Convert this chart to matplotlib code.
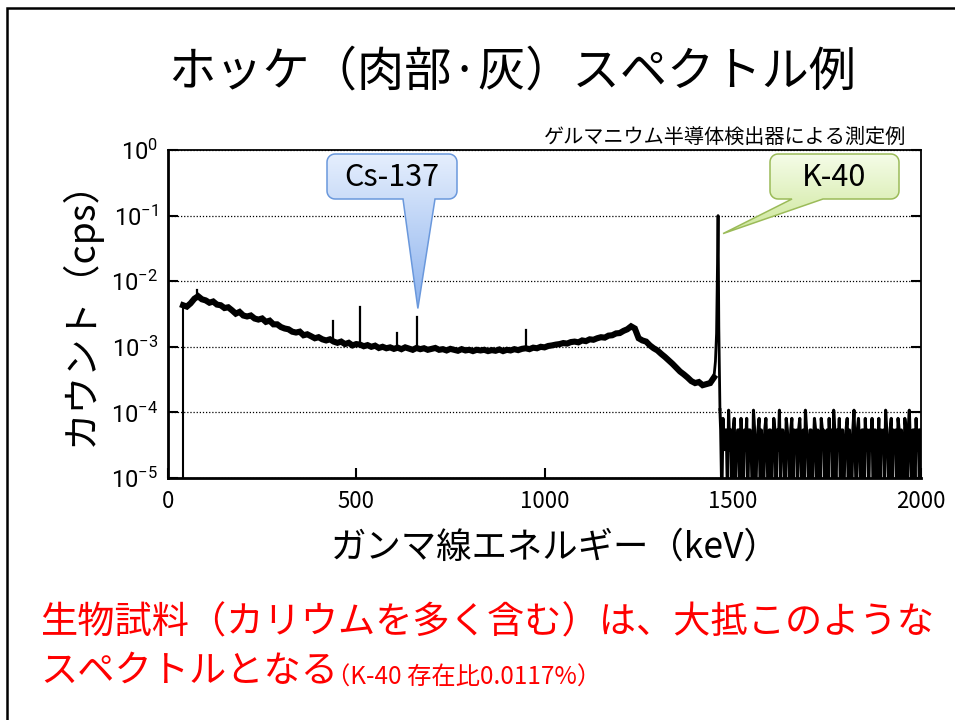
import numpy as np
import matplotlib
matplotlib.use("Agg")
import matplotlib.pyplot as plt
from matplotlib.patches import Polygon
from matplotlib.colors import LinearSegmentedColormap
from matplotlib.ticker import FuncFormatter, FixedLocator

plt.rcParams['font.family'] = ['Noto Sans CJK JP', 'DejaVu Sans']
plt.rcParams['mathtext.fontset'] = 'custom'
plt.rcParams['mathtext.rm'] = 'Roboto'

JP = ['Noto Sans CJK JP', 'DejaVu Sans']

# ---- データ ----
# 連続部 (40-1450 keV, 10 keV ごと), cps
cont_kev = np.arange(40, 1460, 10)
cont_cps = np.array([
    4.3, 4.1, 4.6, 5.4, 5.9, 5.3, 5.1, 4.7, 4.9, 4.4,
    4.3, 3.9, 4.0, 3.6, 3.2, 3.4, 3.0, 2.9, 3.0, 2.7,
    2.6, 2.7, 2.4, 2.5, 2.2, 2.2, 2.0, 1.9, 1.85, 1.7,
    1.65, 1.7, 1.5, 1.55, 1.45, 1.35, 1.4, 1.3, 1.25, 1.3,
    1.2, 1.15, 1.2, 1.1, 1.15, 1.05, 1.1, 1.08, 1.02, 1.06,
    1.0, 1.04, 0.96, 1.0, 0.95, 0.98, 0.93, 0.97, 0.92, 0.98,
    0.94, 0.9, 0.96, 0.92, 0.95, 0.9, 0.93, 0.96, 0.9, 0.92,
    0.88, 0.93, 0.9, 0.87, 0.92, 0.88, 0.9, 0.86, 0.9, 0.88,
    0.9, 0.86, 0.89, 0.87, 0.91, 0.86, 0.9, 0.88, 0.92, 0.89,
    0.93, 0.95, 0.92, 0.97, 0.95, 1.0, 0.98, 1.03, 1.05, 1.08,
    1.1, 1.14, 1.12, 1.18, 1.2, 1.17, 1.25, 1.22, 1.3, 1.28,
    1.35, 1.4, 1.38, 1.48, 1.5, 1.6, 1.62, 1.75, 1.85, 2.05,
    1.9, 1.35, 1.25, 1.2, 1.05, 0.95, 0.88, 0.78, 0.7, 0.62,
    0.55, 0.48, 0.42, 0.38, 0.34, 0.3, 0.28, 0.29, 0.26, 0.27,
    0.28, 0.34,
]) * 1e-3

# 小さなピーク
peak_kev = [76, 438, 511, 609, 661, 950]
peak_cps = [7.4e-3, 2.5e-3, 4.0e-3, 1.65e-3, 2.8e-3, 1.8e-3]

# K-40 ピーク
k40_kev = [1450, 1454, 1457, 1460, 1461, 1463, 1466]
k40_cps = [3.4e-4, 6.0e-4, 1.6e-3, 3.0e-2, 1.0e-1, 2.0e-3, 1.1e-4]

# 1468 keV 以上 (3 keV ごと) のカウント数
tail_kev = np.arange(1468, 2000, 3)
tail_counts = np.array([
    2, 0, 3, 1, 2, 2, 0, 4, 1, 2, 0, 2, 3, 0, 1, 2, 2, 0, 3, 1,
    0, 2, 1, 3, 0, 2, 2, 1, 0, 4, 2, 0, 1, 2, 3, 0, 2, 1, 0, 2,
    3, 1, 0, 2, 2, 0, 1, 3, 2, 0, 2, 1, 4, 0, 2, 2, 1, 0, 3, 2,
    1, 0, 2, 3, 0, 2, 1, 2, 0, 2, 3, 1, 0, 2, 0, 4, 2, 1, 0, 2,
    2, 0, 1, 3, 2, 0, 2, 1, 0, 3, 2, 2, 0, 1, 2, 0, 3, 1, 2, 0,
    4, 2, 0, 2, 1, 3, 0, 2, 2, 0, 1, 2, 3, 0, 2, 1, 0, 2, 4, 1,
    0, 2, 3, 1, 0, 2, 2, 0, 3, 1, 2, 0, 2, 1, 3, 0, 2, 2, 0, 1,
    3, 0, 2, 1, 2, 0, 4, 2, 1, 0, 2, 3, 0, 2, 1, 2, 0, 3, 2, 0,
    2, 1, 0, 3, 2, 0, 2, 4, 1, 0, 2, 2, 0, 3, 1, 2, 0, 2,
])
cps_per_count = 2.7e-5
tail_cps = np.where(tail_counts > 0, tail_counts * cps_per_count, 5e-6)

xticks = [0, 500, 1000, 1500, 2000]
yticks = [1e-5, 1e-4, 1e-3, 1e-2, 1e-1, 1e0]

# ---- 図 ----
fig = plt.figure(figsize=(9.55, 7.2), dpi=100)
ax = fig.add_axes([168 / 955, 1 - 478 / 720, 753 / 955, 328 / 720])

ax.plot(cont_kev, cont_cps, color='black', lw=4.4, solid_joinstyle='miter')
ax.plot([cont_kev[0], cont_kev[0]], [1e-6, cont_cps[0]], color='black', lw=1.5)
base = np.interp(peak_kev, cont_kev, cont_cps)
for e, h, b in zip(peak_kev, peak_cps, base):
    ax.plot([e, e], [b, h], color='black', lw=1.6)
ax.plot([cont_kev[-1]] + k40_kev, [cont_cps[-1]] + k40_cps, color='black', lw=2.0)
ax.plot([k40_kev[-1]] + list(tail_kev), [k40_cps[-1]] + list(tail_cps),
        color='black', lw=2.2)

ax.set_xlim(0, 2000)
ax.set_yscale('log')
ax.set_ylim(1e-5, 1)
ax.xaxis.set_major_locator(FixedLocator(xticks))
ax.yaxis.set_major_locator(FixedLocator(yticks))
ax.yaxis.set_minor_locator(FixedLocator([]))
ax.yaxis.set_major_formatter(FuncFormatter(
    lambda v, p: r'$\mathrm{10^{%d}}$' % round(np.log10(v))))
ax.tick_params(axis='y', which='major', direction='in', length=7, width=1.5,
               left=True, right=True, labelsize=17, pad=7)
ax.tick_params(axis='x', direction='in', length=7, width=1.5, pad=9,
               labelsize=16)
ax.grid(axis='y', which='major', color='black', lw=0.9, ls=(0, (1, 1.5)))
for side in ['left', 'bottom']:
    ax.spines[side].set_linewidth(2)
for side in ['top', 'right']:
    ax.spines[side].set_linewidth(1.3)

# ---- ピクセル座標のオーバーレイ ----
ov = fig.add_axes([0, 0, 1, 1], facecolor='none')
ov.set_xlim(0, 955)
ov.set_ylim(720, 0)
ov.axis('off')

ov.plot([7, 7, 955], [720, 8, 8], color='black', lw=1.8, solid_joinstyle='miter')

ov.text(512, 72, 'ホッケ（肉部·灰）スペクトル例', fontsize=34, ha='center',
        va='center', family=JP)
ov.text(906, 137, 'ゲルマニウム半導体検出器による測定例', fontsize=14.5,
        ha='right', va='center', family=JP)
ov.text(80, 303, 'カウント（cps）', fontsize=27, rotation=90, ha='center',
        va='center', family=JP)
ov.text(555, 548, 'ガンマ線エネルギー（keV）', fontsize=25.5, ha='center',
        va='center', family=JP)

red = '#ff0000'
ov.text(40, 623, '生物試料（カリウムを多く含む）は、大抵このような', fontsize=26.8,
        color=red, ha='left', va='center', family=JP)
ov.text(40, 672, 'スペクトルとなる', fontsize=26.8, color=red, ha='left',
        va='center', family=JP)
ov.text(326, 678, '（K-40 存在比0.0117%）', fontsize=17.5, color=red, ha='left',
        va='center', family=JP)


def to_px(x, y):
    dx, dy = ax.transData.transform((x, y))
    return dx, 720 - dy


def callout(x0, y0, x1, y1, base_l, base_r, tip, top_c, bot_c, edge, r=8):
    pts = []
    corners = [(x1 - r, y0 + r, -90, 0), (x1 - r, y1 - r, 0, 90),
               (x0 + r, y1 - r, 90, 180), (x0 + r, y0 + r, 180, 270)]
    for i, (cx, cy, a0, a1) in enumerate(corners):
        t = np.radians(np.linspace(a0, a1, 8))
        pts += list(zip(cx + r * np.cos(t), cy + r * np.sin(t)))
        if i == 1:
            pts += [(base_r, y1), tip, (base_l, y1)]
    poly = Polygon(pts, closed=True, facecolor='none', edgecolor=edge, lw=1.1,
                   zorder=5)
    ov.add_patch(poly)
    ys = [p[1] for p in pts]
    cmap = LinearSegmentedColormap.from_list('g', [top_c, bot_c])
    grad = np.linspace(0, 1, 256).reshape(-1, 1)
    im = ov.imshow(grad, cmap=cmap, origin='upper', aspect='auto', zorder=4,
                   extent=(min(x0, tip[0]), max(x1, tip[0]), max(ys), min(ys)))
    im.set_clip_path(poly)


tip_cs = to_px(peak_kev[4], peak_cps[4])
callout(327, 154, 457, 199, 403, 435, (tip_cs[0] + 1, tip_cs[1] - 9),
        '#e6effd', '#8db3ee', '#6a98dc')
ov.text(392, 177, 'Cs-137', fontsize=22, ha='center', va='center',
        family=JP, zorder=6)

tip_k = to_px(k40_kev[4], k40_cps[4])
callout(770, 154, 899, 199, 792, 823, (tip_k[0] + 5, tip_k[1] + 18),
        '#f5fce8', '#cde79a', '#9bbb59')
ov.text(834, 177, 'K-40', fontsize=22, ha='center', va='center',
        family=JP, zorder=6)

ov.set_xlim(0, 955)
ov.set_ylim(720, 0)

fig.savefig('out.png', dpi=100)
